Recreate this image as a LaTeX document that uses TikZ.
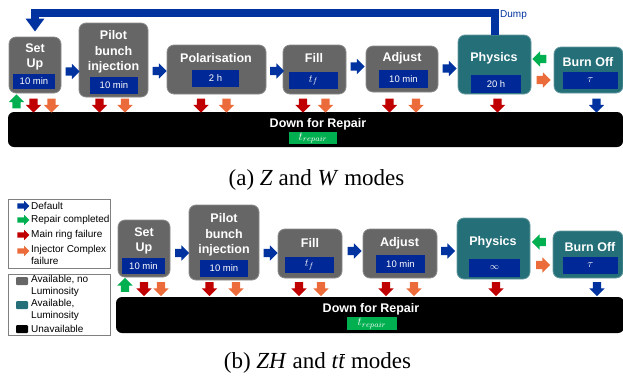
\documentclass[tikz,border=0pt]{standalone}
\usepackage{fontspec}
\setmainfont{Liberation Sans}
\newfontfamily\capfont{Liberation Serif}
\usetikzlibrary{shapes.arrows,arrows.meta}

\definecolor{boxgray}{RGB}{102,102,102}
\definecolor{lumiteal}{RGB}{36,111,120}
\definecolor{durblue}{RGB}{0,40,150}
\definecolor{arrowblue}{RGB}{0,51,160}
\definecolor{failred}{RGB}{192,0,0}
\definecolor{injorange}{RGB}{235,108,58}
\definecolor{repgreen}{RGB}{0,176,80}

\begin{document}
\begin{tikzpicture}[x=1pt,y=-1pt,
    stage/.style={draw=boxgray!75!white, line width=0.8pt, fill=boxgray, rounded corners=7pt, inner sep=0pt},
    lumistage/.style={stage, draw=lumiteal!70!white, fill=lumiteal},
    stagename/.style={text=white, align=center, inner sep=0pt, font=\fontsize{12.5}{15.5}\selectfont\bfseries},
    dur/.style={fill=durblue, text=white, inner sep=0pt, font=\fontsize{9.5}{11}\selectfont},
    mathdur/.style={dur, font=\fontsize{11}{12}\selectfont},
    repairtime/.style={fill=repgreen, text=white, inner sep=0pt, font=\fontsize{11.5}{12}\selectfont},
    downbar/.style={fill=black, rounded corners=6pt, inner sep=0pt},
    flow/.style={single arrow, single arrow head extend=3.5pt, minimum height=14pt, minimum width=15pt, inner sep=4pt},
    legarrow/.style={single arrow, single arrow head extend=2.5pt, minimum height=12pt, minimum width=10pt, inner sep=2.5pt},
    legtext/.style={anchor=west, inner sep=0pt, align=left, font=\fontsize{10}{12}\selectfont},
    legsquare/.style={minimum width=12pt, minimum height=8pt, inner sep=0pt, rounded corners=1pt},
    caption/.style={inner sep=0pt, font=\capfont\fontsize{23}{26}\selectfont},
    dumpline/.style={draw=arrowblue, line width=8pt, shorten >=5pt, -{Triangle[width=18pt,length=13pt]}},
  ]
  \useasboundingbox (0,0) rectangle (623,383);

  % (a) Z and W modes
  \node[downbar, minimum width=615pt, minimum height=35pt] (downa) at (315.5,129.5) {};
  \node[stagename] (downa-n) at (318,124.5) {Down for Repair};
  \node[repairtime, minimum width=48pt, minimum height=12pt] (downa-t) at (313,138) {$t_{repair}$};

  \node[stage, minimum width=52pt, minimum height=56pt] (setupa) at (35,65) {};
  \node[stagename] (setupa-n) at (35,57) {Set\\Up};
  \node[dur, minimum width=42pt, minimum height=15pt] (setupa-d) at (34,81.5) {10 min};

  \node[stage, minimum width=69pt, minimum height=74pt] (pilota) at (113.5,60) {};
  \node[stagename] (pilota-n) at (113.5,52) {Pilot\\bunch\\injection};
  \node[dur, minimum width=48pt, minimum height=17pt] (pilota-d) at (114,85) {10 min};

  \node[stage, minimum width=99pt, minimum height=49pt] (polara) at (216.5,69.5) {};
  \node[stagename] (polara-n) at (216,58) {Polarisation};
  \node[dur, minimum width=47pt, minimum height=17pt] (polara-d) at (215.5,78.5) {2 h};

  \node[stage, minimum width=63pt, minimum height=49pt] (filla) at (314.5,69.5) {};
  \node[stagename] (filla-n) at (314,58) {Fill};
  \node[mathdur, minimum width=49pt, minimum height=17pt] (filla-d) at (313.5,80.5) {$t_f$};

  \node[stage, minimum width=72pt, minimum height=46pt] (adjusta) at (402,69) {};
  \node[stagename] (adjusta-n) at (402,58) {Adjust};
  \node[dur, minimum width=49pt, minimum height=18pt] (adjusta-d) at (403.5,79) {10 min};

  \node[lumistage, minimum width=73pt, minimum height=59pt] (physa) at (494.5,64.5) {};
  \node[stagename] (physa-n) at (494,58) {Physics};
  \node[dur, minimum width=50pt, minimum height=18pt] (physa-d) at (496,84) {20 h};

  \node[lumistage, minimum width=69pt, minimum height=46pt] (burna) at (588.5,70) {};
  \node[stagename] (burna-n) at (588,62) {Burn Off};
  \node[mathdur, minimum width=55pt, minimum height=17pt] (burna-d) at (590.5,80.5) {$\tau$};

  % beam dump back to set up
  \draw[dumpline] (physa.north) -- (physa.north |- 0,13) -| (setupa.north);
  \node[anchor=west, inner sep=0pt, text=arrowblue, font=\fontsize{10}{11}\selectfont] (dumpa) at (500,15) {Dump};

  \foreach \x/\y [count=\i] in {70.5/71.5, 157.5/71, 275/71, 355.5/66.5, 447.5/68.5}
    \node[flow, fill=arrowblue] (nexta\i) at (\x,\y) {};
  \node[flow, fill=repgreen, rotate=180] (backa) at (541.5,59) {};
  \node[flow, fill=injorange] (outa) at (541.5,80) {};

  \node[flow, fill=repgreen, rotate=90] (upa) at (16.5,103.5) {};
  \foreach \x/\c [count=\i] in {33.5/failred, 51.5/injorange, 99.5/failred, 125/injorange,
      201/failred, 226.5/injorange, 303/failred, 325.5/injorange, 389.5/failred,
      416/injorange, 497.5/failred, 596.5/arrowblue}
    \node[flow, fill=\c, rotate=-90] (faila\i) at (\x,103.5) {};

  \node[caption] (capa) at (316.5,180) {(a) \textit{Z} and \textit{W} modes};

  % (b) ZH and ttbar modes
  \node[draw=gray, line width=0.6pt, minimum width=102pt, minimum height=69pt, inner sep=0pt] (legarrows) at (59,233.5) {};
  \node[legarrow, fill=arrowblue] (leg1) at (22,206) {};
  \node[legtext] (leg1-t) at (31,206) {Default};
  \node[legarrow, fill=repgreen] (leg2) at (22,220) {};
  \node[legtext] (leg2-t) at (31,220) {Repair completed};
  \node[legarrow, fill=failred] (leg3) at (22,235) {};
  \node[legtext] (leg3-t) at (31,235) {Main ring failure};
  \node[legarrow, fill=injorange] (leg4) at (22,251) {};
  \node[legtext, anchor=north west] (leg4-t) at (31,245) {Injector Complex\\failure};

  \node[draw=gray, line width=0.6pt, minimum width=102pt, minimum height=61pt, inner sep=0pt] (legstates) at (59,304.5) {};
  \node[legsquare, fill=boxgray] (leg5) at (22,281) {};
  \node[legtext, anchor=north west] (leg5-t) at (31,275) {Available, no\\Luminosity};
  \node[legsquare, fill=lumiteal] (leg6) at (22,305) {};
  \node[legtext, anchor=north west] (leg6-t) at (31,299) {Available,\\Luminosity};
  \node[legsquare, fill=black] (leg7) at (22,329) {};
  \node[legtext] (leg7-t) at (31,328.5) {Unavailable};

  \node[downbar, minimum width=508pt, minimum height=36pt] (downb) at (370,315) {};
  \node[stagename] (downb-n) at (371,309) {Down for Repair};
  \node[repairtime, minimum width=50pt, minimum height=13pt] (downb-t) at (372,323.5) {$t_{repair}$};

  \node[stage, minimum width=52pt, minimum height=57pt] (setupb) at (144,248.5) {};
  \node[stagename] (setupb-n) at (144,241) {Set\\Up};
  \node[dur, minimum width=43pt, minimum height=16pt] (setupb-d) at (143.5,266) {10 min};

  \node[stage, minimum width=70pt, minimum height=75pt] (pilotb) at (224,242.5) {};
  \node[stagename] (pilotb-n) at (224,235) {Pilot\\bunch\\injection};
  \node[dur, minimum width=48pt, minimum height=17pt] (pilotb-d) at (224,268.5) {10 min};

  \node[stage, minimum width=64pt, minimum height=49pt] (fillb) at (310,253.5) {};
  \node[stagename] (fillb-n) at (310,243) {Fill};
  \node[mathdur, minimum width=49pt, minimum height=16pt] (fillb-d) at (309.5,265) {$t_f$};

  \node[stage, minimum width=74pt, minimum height=49pt] (adjustb) at (400,253.5) {};
  \node[stagename] (adjustb-n) at (399.5,243) {Adjust};
  \node[dur, minimum width=49pt, minimum height=18pt] (adjustb-d) at (400.5,264) {10 min};

  \node[lumistage, minimum width=73pt, minimum height=61pt] (physb) at (493.5,248.5) {};
  \node[stagename] (physb-n) at (493,242) {Physics};
  \node[dur, minimum width=51pt, minimum height=18pt] (physb-d) at (494.5,268) {$\infty$};

  \node[lumistage, minimum width=70pt, minimum height=47pt] (burnb) at (588,254.5) {};
  \node[stagename] (burnb-n) at (590,247) {Burn Off};
  \node[mathdur, minimum width=55pt, minimum height=17pt] (burnb-d) at (590.5,265.5) {$\tau$};

  \foreach \x/\y [count=\i] in {180/253, 268.5/253, 352.5/251, 446/251}
    \node[flow, fill=arrowblue] (nextb\i) at (\x,\y) {};
  \node[flow, fill=repgreen, rotate=180] (backb) at (541,242) {};
  \node[flow, fill=injorange] (outb) at (541,265) {};

  \node[flow, fill=repgreen, rotate=90] (upb) at (125,287) {};
  \foreach \x/\c [count=\i] in {144/failred, 161/injorange, 209.5/failred, 236/injorange,
      299/failred, 321/injorange, 386/failred, 414/injorange, 496/failred, 597/arrowblue}
    \node[flow, fill=\c, rotate=-90] (failb\i) at (\x,287) {};

  \node[caption] (capb) at (317.5,363) {(b) \textit{ZH} and \textit{t}\rlap{\textit{t}}\hspace{0.07em}\rule[0.6em]{0.22em}{0.045em}\hspace{0.01em} modes};
\end{tikzpicture}
\end{document}
